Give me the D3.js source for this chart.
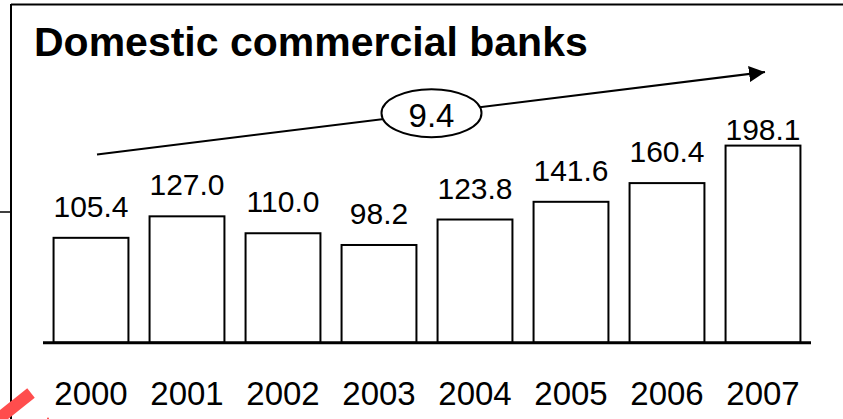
<!DOCTYPE html>
<html>
<head>
<meta charset="utf-8">
<script src="https://cdn.jsdelivr.net/npm/d3@7"></script>
<style>
  html, body { margin: 0; padding: 0; background: #fff; }
  svg { display: block; }
  text { font-family: "Liberation Sans", Arial, Helvetica, sans-serif; fill: #000; }
</style>
</head>
<body>
<svg id="chart" width="843" height="419"></svg>
<script>
// Domestic commercial banks, yearly values
const years = ["2000", "2001", "2002", "2003", "2004", "2005", "2006", "2007"];
const values = [105.4, 127.0, 110.0, 98.2, 123.8, 141.6, 160.4, 198.1];
const growthLabel = "9.4";
const title = "Domestic commercial banks";

const svg = d3.select("#chart");

// frame: top and left edges of the panel
svg.append("line").attr("x1", 11).attr("y1", 4.5).attr("x2", 843).attr("y2", 4.5)
  .attr("stroke", "#000").attr("stroke-width", 2);
svg.append("line").attr("x1", 11).attr("y1", 4).attr("x2", 11).attr("y2", 419)
  .attr("stroke", "#000").attr("stroke-width", 2);
svg.append("line").attr("x1", 0).attr("y1", 212).attr("x2", 11).attr("y2", 212)
  .attr("stroke", "#000").attr("stroke-width", 1.5);

// title
svg.append("text")
  .attr("x", 34).attr("y", 56)
  .attr("font-size", 41).attr("font-weight", "bold")
  .text(title);

// scales
const x = d3.scaleBand().domain(years).range([43, 811])
  .paddingInner(0.22).paddingOuter(0.11);
const y = d3.scaleLinear().domain([0, 200]).range([342.7, 143.7]);

// bars
svg.append("g").selectAll("rect")
  .data(values)
  .join("rect")
  .attr("x", (d, i) => x(years[i]))
  .attr("y", d => y(d))
  .attr("width", x.bandwidth())
  .attr("height", d => y(0) - y(d))
  .attr("fill", "#fff")
  .attr("stroke", "#000")
  .attr("stroke-width", 2);

// value labels above bars, kept below the trend arrow
svg.append("g").selectAll("text")
  .data(values)
  .join("text")
  .attr("x", (d, i) => x(years[i]) + x.bandwidth() / 2)
  .attr("y", d => Math.max(y(d) - 21, 139.5))
  .attr("text-anchor", "middle")
  .attr("font-size", 30)
  .text(d => d.toFixed(1));

// baseline axis with year labels
const axis = d3.axisBottom(x).tickSize(0).tickPadding(0);
const gx = svg.append("g").attr("transform", `translate(0,${y(0)})`).call(axis);
gx.select(".domain").attr("stroke", "#000").attr("stroke-width", 3)
  .attr("d", `M43,0H811`);
gx.selectAll(".tick text")
  .attr("y", 62).attr("dy", null)
  .attr("font-size", 33)
  .attr("font-family", "'Liberation Sans', Arial, sans-serif")
  .attr("fill", "#000");

// growth trend arrow
const defs = svg.append("defs");
defs.append("marker")
  .attr("id", "arrowhead")
  .attr("viewBox", "0 0 16 16")
  .attr("refX", 16).attr("refY", 8)
  .attr("markerWidth", 16).attr("markerHeight", 16)
  .attr("markerUnits", "userSpaceOnUse")
  .attr("orient", "auto")
  .append("path").attr("d", "M0,0L16,8L0,16Z").attr("fill", "#000");

const ax1 = 97, ay1 = 154.5, ax2 = 765, ay2 = 72;
svg.append("line")
  .attr("x1", ax1).attr("y1", ay1).attr("x2", ax2).attr("y2", ay2)
  .attr("stroke", "#000").attr("stroke-width", 2)
  .attr("marker-end", "url(#arrowhead)");

const ex = 431.5;
const ey = ay1 + (ay2 - ay1) * (ex - ax1) / (ax2 - ax1);
svg.append("ellipse")
  .attr("cx", ex).attr("cy", ey).attr("rx", 50).attr("ry", 24)
  .attr("fill", "#fff").attr("stroke", "#000").attr("stroke-width", 2);
svg.append("text")
  .attr("x", ex).attr("y", ey + 13.5)
  .attr("text-anchor", "middle")
  .attr("font-size", 33)
  .text(growthLabel);

// red pen stroke in the lower left corner
svg.append("line")
  .attr("x1", -4).attr("y1", 421).attr("x2", 31).attr("y2", 393)
  .attr("stroke", "#ff4d4d").attr("stroke-width", 12);
svg.append("circle").attr("cx", 48).attr("cy", 418.5).attr("r", 1)
  .attr("fill", "#ff4d4d");
</script>
</body>
</html>
